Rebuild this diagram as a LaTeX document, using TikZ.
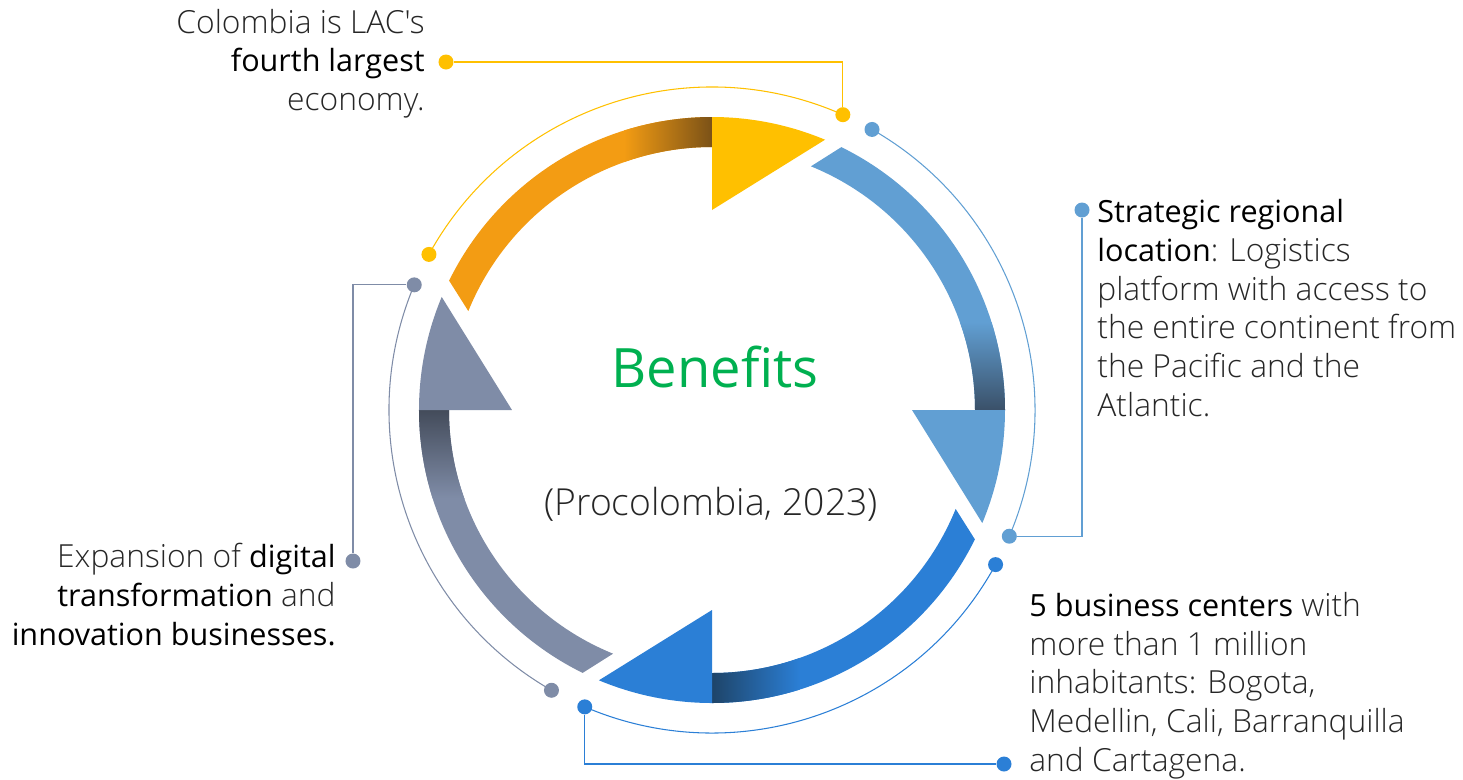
\documentclass[tikz,border=0pt]{standalone}
\usepackage{fontspec}
\setmainfont{Open Sans}
\newfontfamily\lightfont{Open Sans Light}
\usetikzlibrary{positioning,backgrounds}

\definecolor{amber}{HTML}{FFC000}
\definecolor{orangebar}{HTML}{F39C13}
\definecolor{orangedark}{HTML}{7A5117}
\definecolor{skyblue}{HTML}{619FD3}
\definecolor{skydark}{HTML}{3A5068}
\definecolor{royal}{HTML}{2B7FD6}
\definecolor{royaldark}{HTML}{1E4468}
\definecolor{slate}{HTML}{7F8CA7}
\definecolor{slatedark}{HTML}{434B5A}
\definecolor{benefitgreen}{HTML}{00B050}

\newcommand{\keytext}[1]{{\normalfont\fontsize{17.4}{22}\selectfont\color{black}#1}}

% one quarter of the cycle: shaft, dark fade next to the head, arrow head
% #5 = shading angle of the fade (it does not turn with the scope)
\newcommand{\cyclepart}[5]{%
  \begin{scope}[rotate=#1]
    \fill[#2] (90:293) arc[start angle=90,end angle=153.8,radius=293]
      -- (157.9:263) arc[start angle=157.9,end angle=90,radius=263] -- cycle;
    \begin{scope}
      \clip (90:293) arc[start angle=90,end angle=153.8,radius=293]
        -- (157.9:263) arc[start angle=157.9,end angle=90,radius=263] -- cycle;
      \shade[top color=#2,bottom color=#4,shading angle=#5] (-88,230) rectangle (0.5,300);
    \end{scope}
    \fill[#3] (90:293) arc[start angle=90,end angle=67.3,radius=293] -- (90:200) -- cycle;
  \end{scope}}

\begin{document}
\begin{tikzpicture}[x=0.02cm,y=0.02cm,
  dot/.style={circle,inner sep=0pt,minimum size=0.3cm},
  guide/.style={line width=0.6pt},
  lbl/.style={font=\lightfont\fontsize{18.1}{22}\selectfont,text=black!85,inner sep=0pt}]
\useasboundingbox (-712,-369) rectangle (751,410);

\cyclepart{0}{orangebar}{amber}{orangedark}{90}
\cyclepart{-90}{skyblue}{skyblue}{skydark}{0}
\cyclepart{-180}{royal}{royal}{royaldark}{-90}
\cyclepart{-270}{slate}{slate}{slatedark}{180}

% dots on the outer guide arcs
\node[dot,fill=amber] (ya) at (151.2:323) {};
\node[dot,fill=amber] (yb) at (66.1:323) {};
\node[dot,fill=skyblue] (ba) at (60.3:323) {};
\node[dot,fill=skyblue] (bb) at (-23:323) {};
\node[dot,fill=royal] (ca) at (-28.6:323) {};
\node[dot,fill=royal] (cb) at (-113.2:323) {};
\node[dot,fill=slate] (ga) at (240.2:323) {};
\node[dot,fill=slate] (gb) at (157.2:323) {};

% dots next to the texts
\node[dot,fill=amber] (yl) at (-266,348) {};
\node[dot,fill=skyblue] (bl) at (370,200) {};
\node[dot,fill=royal] (cl) at (292,-354) {};
\node[dot,fill=slate] (gl) at (-359,-151) {};

\begin{scope}[on background layer]
\draw[guide,amber] (ya.center) arc[start angle=151.2,end angle=66.1,radius=323];
\draw[guide,skyblue] (ba.center) arc[start angle=60.3,end angle=-23,radius=323];
\draw[guide,royal] (ca.center) arc[start angle=-28.6,end angle=-113.2,radius=323];
\draw[guide,slate] (ga.center) arc[start angle=240.2,end angle=157.2,radius=323];
\draw[guide,amber] (yb) |- (yl);
\draw[guide,skyblue] (bb) -| (bl);
\draw[guide,royal] (cb) |- (cl);
\draw[guide,slate] (gb) -| (gl);
\end{scope}

\node[font=\fontsize{30.9}{38}\selectfont,text=benefitgreen,anchor=base] (title) at (3,23) {Benefits};
\node[lbl,font=\lightfont\fontsize{21.2}{24}\selectfont,anchor=base] (source) at (-1,-105) {(Procolombia, 2023)};

% base anchor of a multi-line node sits on its last line
\node[lbl,align=right,anchor=base east] (economy) at (-287,299.5)
  {Colombia is LAC's\\\keytext{fourth largest}\\economy.};
\node[lbl,align=left,anchor=base west] (location) at (385,-6)
  {\keytext{Strategic regional}\\\keytext{location}: Logistics\\platform with access to\\the entire continent from\\the Pacific and the\\Atlantic.};
\node[lbl,align=left,anchor=base west] (centers) at (317,-361)
  {\keytext{5 business centers} with\\more than 1 million\\inhabitants: Bogota,\\Medellin, Cali, Barranquilla\\and Cartagena.};
\node[lbl,align=right,anchor=base east] (digital) at (-376,-235)
  {Expansion of \keytext{digital}\\\keytext{transformation} and\\\keytext{innovation businesses.}};
\end{tikzpicture}
\end{document}
